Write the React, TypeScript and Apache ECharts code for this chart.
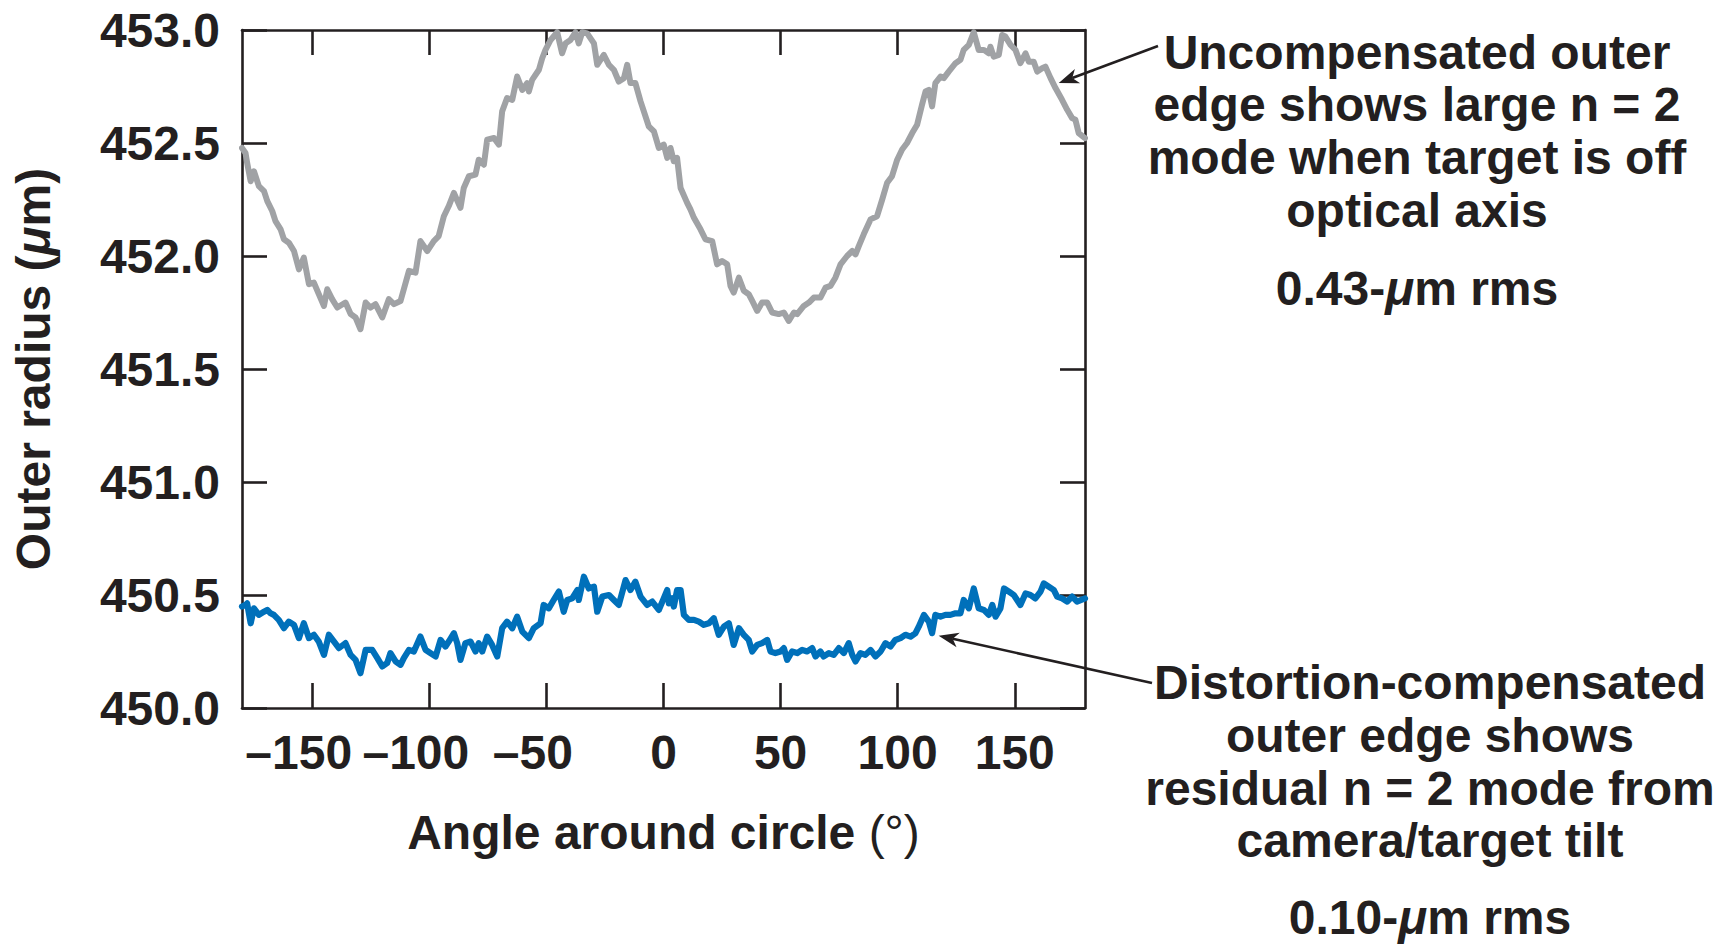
import React, { useEffect, useRef } from "react";
import * as echarts from "echarts";

// Angle around the circle (deg) and measured outer radius (um), uncompensated edge
const grayAngles = [
  -180, -178.5, -177.8, -176.3, -174.9, -172.8, -170.6, -169.2, -167.1, -165.7, -163.5, -162.1, -160.0, -157.8,
  -155.7, -153.6, -151.4, -149.3, -147.2, -145.0, -143.6, -141.5, -139.3, -135.8, -133.6, -131.5, -129.4, -127.2,
  -125.1, -123.0, -120.1, -117.3, -115.1, -112.3, -110.9, -108.7, -105.9, -103.8, -100.9, -98.1, -96.0, -93.8,
  -91.7, -89.5, -86.7, -85.3, -83.1, -80.3, -78.9, -76.7, -75.3, -72.4, -70.3, -68.9, -66.8, -64.6, -62.5, -60.3,
  -58.2, -57.5, -56.1, -53.2, -51.8, -50.4, -48.2, -45.4, -43.3, -41.8, -39.7, -37.6, -36.2, -34.7, -32.6, -29.7,
  -28.3, -25.5, -23.3, -21.2, -19.1, -16.9, -15.5, -14.1, -12.0, -9.8, -6.3, -4.1, -2.0, 0.1, 1.6, 3.0, 4.4, 5.8,
  7.3, 10.1, 11.5, 13.0, 15.8, 17.9, 20.8, 22.9, 25.0, 27.2, 28.6, 30.0, 32.2, 34.3, 36.4, 37.9, 40.0, 42.1, 44.3,
  46.4, 49.2, 51.4, 53.5, 55.7, 57.1, 59.9, 62.1, 64.2, 67.0, 69.2, 71.3, 73.4, 75.6, 78.4, 80.6, 82.0, 83.4, 85.5,
  88.4, 91.2, 93.4, 95.5, 97.6, 99.8, 101.9, 104.0, 106.2, 108.3, 110.4, 111.9, 113.3, 114.7, 116.1, 118.3, 119.7,
  121.8, 124.7, 126.8, 128.2, 130.4, 132.5, 134.6, 136.8, 138.9, 139.6, 141.0, 143.2, 144.6, 146.0, 148.2, 150.3,
  152.4, 154.6, 156.0, 158.1, 159.6, 161.7, 163.1, 165.3, 167.4, 170.2, 172.4, 174.5, 175.9, 177.3, 180,
];
const grayRadius = [
  452.478, 452.456, 452.412, 452.331, 452.375, 452.309, 452.287, 452.243, 452.199, 452.154, 452.118, 452.074,
  452.059, 452.022, 451.941, 451.993, 451.875, 451.882, 451.831, 451.779, 451.853, 451.809, 451.772, 451.794,
  451.743, 451.728, 451.676, 451.794, 451.772, 451.787, 451.728, 451.809, 451.787, 451.801, 451.853, 451.934,
  451.926, 452.066, 452.022, 452.066, 452.088, 452.176, 452.221, 452.279, 452.213, 452.301, 452.353, 452.36,
  452.426, 452.404, 452.515, 452.522, 452.493, 452.64, 452.699, 452.691, 452.794, 452.735, 452.765, 452.728,
  452.779, 452.824, 452.875, 452.912, 452.956, 452.99, 452.897, 452.941, 452.956, 452.99, 452.941, 452.99,
  452.985, 452.941, 452.846, 452.89, 452.846, 452.824, 452.772, 452.787, 452.846, 452.765, 452.765, 452.684,
  452.574, 452.551, 452.478, 452.493, 452.434, 452.478, 452.419, 452.434, 452.301, 452.235, 452.206, 452.169,
  452.118, 452.074, 452.066, 451.963, 451.978, 451.963, 451.868, 451.838, 451.904, 451.846, 451.831, 451.801,
  451.757, 451.794, 451.794, 451.75, 451.743, 451.75, 451.713, 451.75, 451.743, 451.779, 451.794, 451.816,
  451.816, 451.86, 451.868, 451.904, 451.963, 452.0, 452.022, 452.007, 452.044, 452.096, 452.162, 452.176,
  452.25, 452.324, 452.353, 452.426, 452.471, 452.5, 452.544, 452.581, 452.669, 452.728, 452.735, 452.662,
  452.765, 452.794, 452.787, 452.816, 452.853, 452.868, 452.912, 452.934, 452.99, 452.912, 452.912, 452.897,
  452.926, 452.882, 452.89, 452.978, 452.971, 452.934, 452.912, 452.853, 452.897, 452.86, 452.86, 452.816,
  452.831, 452.838, 452.787, 452.743, 452.691, 452.647, 452.61, 452.603, 452.544, 452.522,
];

// Distortion-compensated edge
const blueAngles = [
  -180, -178.5, -177.8, -176.3, -174.9, -172.8, -170.6, -169.2, -167.8, -166.4, -164.3, -162.1, -160.0, -157.8,
  -155.7, -153.6, -151.4, -149.3, -147.2, -145.0, -142.9, -140.7, -138.6, -135.8, -133.6, -131.5, -129.4, -127.2,
  -124.4, -122.2, -120.1, -118.0, -116.6, -114.4, -112.3, -110.9, -108.7, -106.6, -103.8, -101.6, -99.5, -97.3,
  -95.2, -93.1, -91.7, -89.5, -88.1, -86.7, -84.6, -82.4, -80.3, -78.9, -77.4, -75.3, -73.2, -71.0, -68.9, -66.8,
  -64.6, -62.5, -60.3, -57.5, -55.4, -52.5, -51.2, -49.0, -46.9, -44.7, -42.6, -41.1, -39.0, -36.8, -36.2, -34.0,
  -31.9, -29.7, -28.3, -26.1, -23.3, -21.2, -19.1, -16.2, -14.1, -12.0, -9.8, -7.0, -4.8, -2.0, 0.1, 1.6, 2.3, 3.7,
  4.4, 5.8, 7.3, 8.7, 10.8, 13.0, 15.1, 17.2, 19.4, 21.5, 23.6, 25.8, 27.9, 30.0, 32.2, 34.3, 36.4, 37.9, 40.0,
  42.1, 44.3, 45.7, 47.8, 50.0, 51.4, 52.8, 54.9, 57.1, 59.2, 61.3, 63.5, 64.9, 67.0, 68.4, 70.6, 72.7, 74.9, 77.0,
  79.1, 80.6, 82.0, 84.1, 86.2, 88.4, 90.5, 92.7, 94.8, 96.9, 99.0, 101.2, 103.3, 105.5, 107.6, 109.0, 111.2,
  113.3, 114.7, 116.1, 118.3, 120.4, 122.5, 124.7, 126.8, 128.2, 130.4, 132.5, 134.6, 136.8, 138.9, 140.4, 141.8,
  143.9, 145.4, 147.5, 149.6, 152.4, 154.6, 156.7, 158.8, 161.0, 162.4, 164.5, 166.7, 168.1, 170.2, 172.4, 174.5,
  176.6, 180,
];
const blueRadius = [
  450.449, 450.456, 450.463, 450.375, 450.441, 450.412, 450.426, 450.434, 450.419, 450.412, 450.39, 450.353,
  450.382, 450.368, 450.309, 450.375, 450.309, 450.324, 450.294, 450.235, 450.324, 450.294, 450.265, 450.287,
  450.235, 450.213, 450.154, 450.257, 450.257, 450.221, 450.184, 450.199, 450.243, 450.206, 450.191, 450.221,
  450.257, 450.25, 450.316, 450.257, 450.243, 450.228, 450.301, 450.272, 450.294, 450.331, 450.287, 450.213,
  450.287, 450.294, 450.25, 450.287, 450.25, 450.316, 450.279, 450.228, 450.353, 450.382, 450.353, 450.404,
  450.338, 450.309, 450.353, 450.375, 450.456, 450.441, 450.478, 450.515, 450.426, 450.478, 450.485, 450.522,
  450.478, 450.581, 450.529, 450.537, 450.426, 450.493, 450.5, 450.478, 450.456, 450.566, 450.522, 450.559,
  450.493, 450.456, 450.471, 450.434, 450.485, 450.522, 450.463, 450.485, 450.449, 450.522, 450.522, 450.412,
  450.39, 450.39, 450.382, 450.368, 450.375, 450.397, 450.324, 450.36, 450.375, 450.279, 450.353, 450.324,
  450.301, 450.25, 450.279, 450.287, 450.301, 450.25, 450.243, 450.25, 450.265, 450.213, 450.25, 450.243,
  450.257, 450.25, 450.265, 450.228, 450.25, 450.228, 450.243, 450.235, 450.265, 450.243, 450.287, 450.235,
  450.206, 450.243, 450.235, 450.257, 450.228, 450.25, 450.287, 450.272, 450.301, 450.309, 450.324, 450.316,
  450.331, 450.36, 450.412, 450.382, 450.331, 450.412, 450.404, 450.412, 450.412, 450.419, 450.419, 450.478,
  450.441, 450.529, 450.441, 450.434, 450.412, 450.456, 450.404, 450.441, 450.529, 450.515, 450.5, 450.456,
  450.507, 450.5, 450.485, 450.515, 450.551, 450.537, 450.522, 450.493, 450.485, 450.471, 450.493, 450.471,
  450.485,
];

const xTicks = [-150, -100, -50, 0, 50, 100, 150];

const upperNote = ["Uncompensated outer", "edge shows large n = 2", "mode when target is off", "optical axis"];
const upperRms = "0.43-{mu|\u03bc}m rms";
const lowerNote = ["Distortion-compensated", "outer edge shows", "residual n = 2 mode from", "camera/target tilt"];
const lowerRms = "0.10-{mu|\u03bc}m rms";

const FONT = '"Liberation Sans", Arial, Helvetica, sans-serif';
const INK = "#231f20";
const GRAY = "#a0a2a5";
const BLUE = "#0070ba";
const FS = 48;

const muStyle = { fontStyle: "italic", fontWeight: "bold", fontSize: FS, fontFamily: FONT, fill: INK, color: INK };

function arrow(tail: number[], tip: number[]) {
  const dx = tip[0] - tail[0];
  const dy = tip[1] - tail[1];
  const len = Math.hypot(dx, dy);
  const ux = dx / len;
  const uy = dy / len;
  const nx = -uy;
  const ny = ux;
  const L = 20;
  const W = 7.5;
  const notch = [tip[0] - ux * L * 0.72, tip[1] - uy * L * 0.72];
  return [
    {
      type: "line",
      shape: { x1: tail[0], y1: tail[1], x2: notch[0], y2: notch[1] },
      style: { stroke: INK, lineWidth: 2.6 },
      silent: true,
    },
    {
      type: "polygon",
      shape: {
        points: [
          tip,
          [tip[0] - ux * L + nx * W, tip[1] - uy * L + ny * W],
          notch,
          [tip[0] - ux * L - nx * W, tip[1] - uy * L - ny * W],
        ],
      },
      style: { fill: INK },
      silent: true,
    },
  ];
}

function noteLines(lines: string[], cx: number, ys: number[]) {
  return lines.map((t, i) => ({
    type: "text",
    x: cx,
    y: ys[i],
    silent: true,
    style: {
      text: t,
      align: "center",
      verticalAlign: "middle",
      fontSize: FS,
      fontWeight: "bold",
      fontFamily: FONT,
      fill: INK,
      rich: { mu: muStyle },
    },
  }));
}

export default function App() {
  const ref = useRef<HTMLDivElement>(null);

  useEffect(() => {
    if (!ref.current) return;
    const chart = echarts.init(ref.current, null, { renderer: "svg" });
    const pairs = (xs: number[], ys: number[]) => xs.map((x, i) => [x, ys[i]]);

    const tickStyle = { show: true, inside: true, length: 25, lineStyle: { color: INK, width: 2.6 } };
    const lineStyle = { show: true, onZero: false, lineStyle: { color: INK, width: 2.6 } };
    const labelText = { color: INK, fontSize: FS, fontWeight: "bold", fontFamily: FONT };

    chart.setOption({
      animation: false,
      backgroundColor: "#ffffff",
      grid: { left: 242, top: 30, width: 843, height: 678, containLabel: false },
      xAxis: [
        {
          type: "value",
          position: "bottom",
          min: -180,
          max: 180,
          splitNumber: 7,
          axisLine: lineStyle,
          axisTick: { ...tickStyle, customValues: xTicks },
          splitLine: { show: false },
          axisLabel: {
            ...labelText,
            margin: 20,
            customValues: xTicks,
            formatter: (v: number) => (v < 0 ? `{neg|\u2013${Math.abs(v)}}` : `${v}`),
            rich: { neg: { ...labelText, padding: [0, 27, 0, 0] } },
          },
          name: "Angle around circle {deg|(\u00b0)}",
          nameLocation: "middle",
          nameGap: 100,
          nameTextStyle: {
            ...labelText,
            rich: { deg: { ...labelText, fontWeight: "normal" } },
          },
        },
        {
          type: "value",
          position: "top",
          min: -180,
          max: 180,
          splitNumber: 7,
          axisLine: lineStyle,
          axisTick: { ...tickStyle, customValues: xTicks },
          axisLabel: { show: false },
          splitLine: { show: false },
        },
      ],
      yAxis: [
        {
          type: "value",
          position: "left",
          min: 450,
          max: 453,
          interval: 0.5,
          axisLine: lineStyle,
          axisTick: tickStyle,
          splitLine: { show: false },
          axisLabel: { ...labelText, margin: 22, formatter: (v: number) => v.toFixed(1) },
          name: "Outer radius ({mu|\u03bc}m)",
          nameLocation: "middle",
          nameRotate: 90,
          nameGap: 185,
          nameTextStyle: {
            ...labelText,
            rich: { mu: { ...labelText, fontStyle: "italic" } },
          },
        },
        {
          type: "value",
          position: "right",
          min: 450,
          max: 453,
          interval: 0.5,
          axisLine: lineStyle,
          axisTick: tickStyle,
          axisLabel: { show: false },
          splitLine: { show: false },
        },
      ],
      series: [
        {
          name: "Uncompensated",
          type: "line",
          xAxisIndex: 0,
          yAxisIndex: 0,
          data: pairs(grayAngles, grayRadius),
          showSymbol: false,
          clip: false,
          lineStyle: { color: GRAY, width: 6, join: "round", cap: "round" },
          z: 3,
        },
        {
          name: "Distortion-compensated",
          type: "line",
          xAxisIndex: 0,
          yAxisIndex: 0,
          data: pairs(blueAngles, blueRadius),
          showSymbol: false,
          clip: false,
          lineStyle: { color: BLUE, width: 6.2, join: "round", cap: "round" },
          z: 3,
        },
      ],
    });

    // Arrow tips sit next to the curves, in data coordinates
    const tipUpper = chart.convertToPixel({ gridIndex: 0 }, [168.8, 452.765]) as number[];
    const tipLower = chart.convertToPixel({ gridIndex: 0 }, [117.5, 450.32]) as number[];

    chart.setOption({
      graphic: [
        ...arrow([1158, 46], tipUpper),
        ...arrow([1152, 683], tipLower),
        ...noteLines(upperNote, 1417, [52, 104.5, 157, 210]),
        ...noteLines([upperRms], 1417, [288]),
        ...noteLines(lowerNote, 1430, [682, 735, 788, 840]),
        ...noteLines([lowerRms], 1430, [917]),
      ],
    });

    return () => chart.dispose();
  }, []);

  return (
    <div
      ref={ref}
      style={{ position: "fixed", left: 0, top: 0, width: 1725, height: 945, background: "#ffffff" }}
    />
  );
}
